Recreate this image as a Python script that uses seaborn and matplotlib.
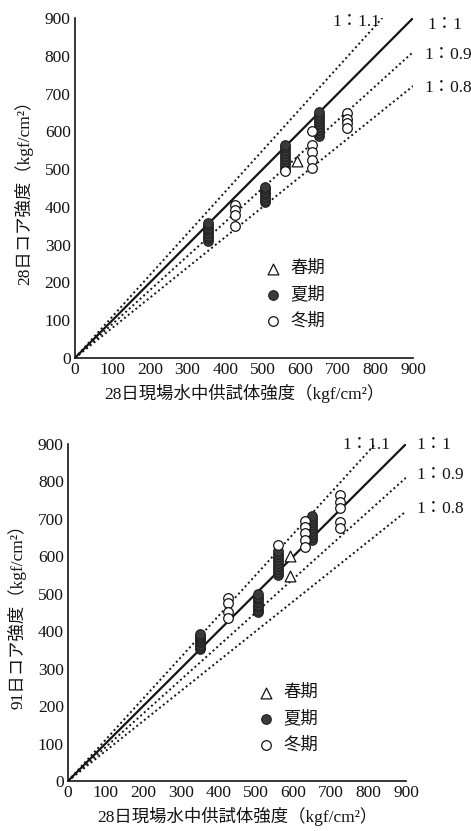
import matplotlib
matplotlib.use("Agg")
import matplotlib.pyplot as plt
import seaborn as sns
import pandas as pd
import numpy as np

sns.set_theme(style="white")
plt.rcParams['font.family'] = ['Liberation Serif', 'Noto Sans CJK JP']
plt.rcParams['axes.unicode_minus'] = False

# ---- data: 28-day core strength vs 28-day field-cured specimen strength ----
spring28_x = [590]
spring28_y = [522]
summer28_x = [355] * 8 + [505] * 7 + [558] * 9 + [650] * 9
summer28_y = [310, 317, 324, 331, 338, 345, 352, 358,
              412, 419, 426, 433, 440, 447, 454,
              502, 510, 518, 526, 534, 542, 550, 558, 565,
              588, 596, 604, 612, 620, 628, 636, 644, 652]
winter28_x = [425, 425, 425, 425, 558, 630, 630, 630, 630, 630, 725, 725, 725, 725]
winter28_y = [405, 392, 378, 349, 495, 600, 563, 546, 524, 504, 649, 634, 621, 608]

# ---- data: 91-day core strength vs 28-day field-cured specimen strength ----
spring91_x = [590, 590]
spring91_y = [601, 548]
summer91_x = [352] * 8 + [505] * 8 + [558] * 9 + [650] * 9
summer91_y = [352, 358, 364, 370, 376, 382, 388, 393,
              450, 457, 464, 471, 478, 485, 492, 499,
              550, 558, 566, 574, 582, 590, 598, 606, 613,
              644, 652, 660, 668, 676, 684, 692, 700, 707]
winter91_x = [425, 425, 425, 425, 560, 630, 630, 630, 630, 630, 725, 725, 725, 725, 725]
winter91_y = [490, 475, 452, 434, 630, 695, 678, 661, 643, 626, 764, 746, 729, 693, 676]

seasons = ['春期', '夏期', '冬期']
ratios = [1.1, 1.0, 0.9, 0.8]
ratio_labels = ['1：1.1', '1：1', '1：0.9', '1：0.8']
ticks = [0, 100, 200, 300, 400, 500, 600, 700, 800, 900]

ylabels = ['28日コア強度（kgf/cm²）', '91日コア強度（kgf/cm²）']
xlabel = '28日現場水中供試体強度（kgf/cm²）'

datasets = [
    ((spring28_x, spring28_y), (summer28_x, summer28_y), (winter28_x, winter28_y)),
    ((spring91_x, spring91_y), (summer91_x, summer91_y), (winter91_x, winter91_y)),
]

# label anchor positions (data coords) for ratio labels, per panel
label_pos = [
    [(685, 889), (937, 881), (930, 802), (930, 715)],
    [(730, 897), (929, 897), (927, 817), (927, 726)],
]
legend_anchor = [(0.56, 0.285), (0.56, 0.285)]

ink = '#141414'

fig = plt.figure(figsize=(4.71, 8.31), dpi=100)
ax_rects = [[0.159, 0.5692, 0.718, 0.4091],
            [0.1444, 0.0602, 0.7176, 0.4055]]

for k in range(2):
    ax = fig.add_axes(ax_rects[k])
    for r, lab, pos in zip(ratios, ratio_labels, label_pos[k]):
        xe = 900 if r <= 1 else 900 / r
        line_df = pd.DataFrame({'x': [0, xe], 'y': [0, xe * r]})
        if r == 1.0:
            sns.lineplot(data=line_df, x='x', y='y', ax=ax, color=ink, lw=1.6, zorder=2)
        else:
            sns.lineplot(data=line_df, x='x', y='y', ax=ax, color=ink, lw=1.4,
                         linestyle=(0, (1, 1.5)), zorder=2)
        ax.text(pos[0], pos[1], lab, fontsize=12.5, color=ink, ha='left', va='center',
                clip_on=False)

    (spx, spy), (sux, suy), (wix, wiy) = datasets[k]
    sns.scatterplot(x=spx, y=spy, ax=ax, marker='^', s=60, facecolor='white',
                    edgecolor=ink, linewidth=0.9, label=seasons[0], zorder=4, clip_on=False)
    sns.scatterplot(x=sux, y=suy, ax=ax, marker='o', s=48, facecolor='#3a3a3a',
                    edgecolor='#202020', linewidth=0.8, label=seasons[1], zorder=3, clip_on=False)
    sns.scatterplot(x=wix, y=wiy, ax=ax, marker='o', s=48, facecolor='white',
                    edgecolor=ink, linewidth=0.9, label=seasons[2], zorder=4, clip_on=False)

    ax.set_xlim(0, 900)
    ax.set_ylim(0, 900)
    ax.set_xticks(ticks)
    ax.set_yticks(ticks)
    ax.set_xticklabels([str(t) for t in ticks])
    ax.set_yticklabels([str(t) for t in ticks])
    ax.tick_params(axis='both', direction='in', length=4.5, width=1.0, colors=ink,
                   labelsize=12.5, pad=3)
    ax.tick_params(axis='both', labelcolor=ink)
    for s in ['top', 'right']:
        ax.spines[s].set_visible(False)
    for s in ['left', 'bottom']:
        ax.spines[s].set_color(ink)
        ax.spines[s].set_linewidth(1.2)
    ax.set_facecolor('white')
    ax.set_xlabel(xlabel, fontsize=12.5, color=ink, labelpad=4)
    ax.set_ylabel(ylabels[k], fontsize=12.5, color=ink, labelpad=8)

    leg = ax.legend(loc='upper left', bbox_to_anchor=legend_anchor[k], frameon=False,
                    fontsize=12.5, handlelength=1.0, handletextpad=0.5,
                    labelspacing=0.55, borderpad=0, borderaxespad=0)
    for t in leg.get_texts():
        t.set_color(ink)

fig.savefig('out.png', dpi=100, facecolor='white')
